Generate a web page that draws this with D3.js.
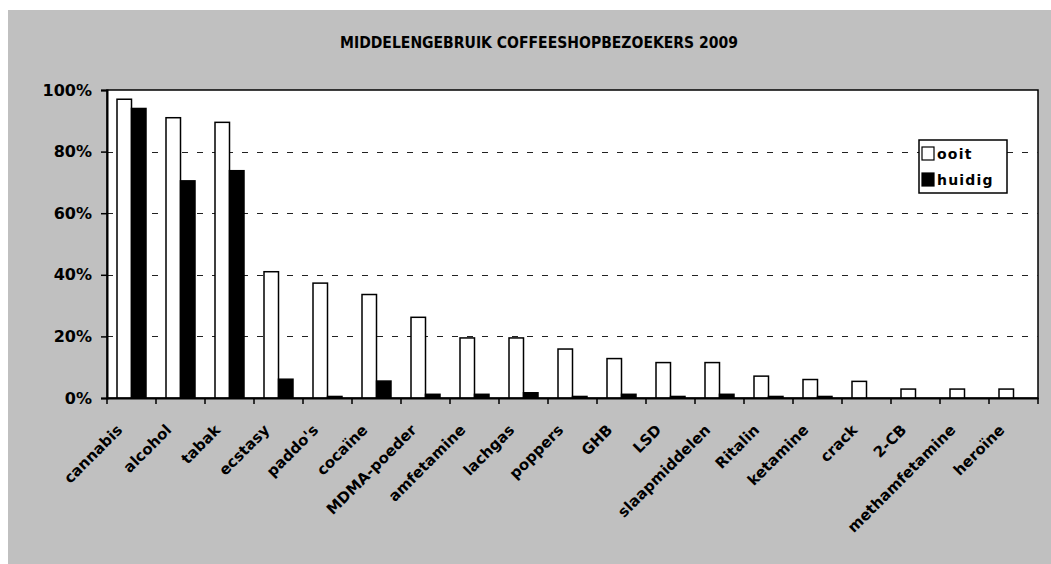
<!DOCTYPE html>
<html>
<head>
<meta charset="utf-8">
<script src="https://cdn.jsdelivr.net/npm/d3@7"></script>
<style>
  html, body { margin: 0; padding: 0; background: #ffffff; }
  svg { display: block; }
  text { font-family: "DejaVu Sans", sans-serif; font-weight: bold; fill: #000; }
</style>
</head>
<body>
<svg id="chart" width="1051" height="564"></svg>
<script>
const categories = ["cannabis", "alcohol", "tabak", "ecstasy", "paddo's", "cocaïne", "MDMA-poeder",
  "amfetamine", "lachgas", "poppers", "GHB", "LSD", "slaapmiddelen", "Ritalin", "ketamine",
  "crack", "2-CB", "methamfetamine", "heroïne"];
const seriesNames = ["ooit", "huidig"];
const ooit =   [97, 91, 89.5, 41, 37.3, 33.6, 26.2, 19.5, 19.5, 15.9, 12.8, 11.5, 11.5, 7.1, 6.0, 5.4, 2.9, 2.9, 2.9];
const huidig = [94, 70.5, 73.8, 6.1, 0.5, 5.5, 1.2, 1.2, 1.7, 0.5, 1.2, 0.5, 1.2, 0.5, 0.5, 0, 0, 0, 0];
const yTicks = [0, 20, 40, 60, 80, 100];
const title = "MIDDELENGEBRUIK COFFEESHOPBEZOEKERS 2009";

const svg = d3.select("#chart");
const W = 1051, H = 564;
const plot = { left: 107, right: 1038, top: 90, bottom: 398 };

// background
svg.append("rect").attr("x", 8).attr("y", 10).attr("width", W - 8).attr("height", H - 10).attr("fill", "#c0c0c0");

// title
svg.append("text")
  .attr("x", 539).attr("y", 48)
  .attr("text-anchor", "middle")
  .attr("font-size", 15)
  .attr("textLength", 398).attr("lengthAdjust", "spacingAndGlyphs")
  .text(title);

const x = d3.scaleBand().domain(categories).range([plot.left, plot.right]).paddingInner(0).paddingOuter(0);
const x1 = d3.scaleBand().domain(seriesNames).range([0, x.bandwidth()]).paddingInner(0).paddingOuter(0.69);
const y = d3.scaleLinear().domain([0, 100]).range([plot.bottom, plot.top]);

// plot area
svg.append("rect")
  .attr("x", plot.left).attr("y", plot.top)
  .attr("width", plot.right - plot.left).attr("height", plot.bottom - plot.top)
  .attr("fill", "#ffffff").attr("stroke", "#000").attr("stroke-width", 1.5);

// gridlines
svg.append("g").selectAll("line").data(yTicks.filter(d => d > 0 && d < 100)).join("line")
  .attr("x1", plot.left).attr("x2", plot.right)
  .attr("y1", d => Math.round(y(d)) + 0.5).attr("y2", d => Math.round(y(d)) + 0.5)
  .attr("stroke", "#222").attr("stroke-width", 1).attr("stroke-dasharray", "6,9");

// bars
const rows = categories.map((c, i) => ({ cat: c, ooit: ooit[i], huidig: huidig[i] }));
const groups = svg.append("g").selectAll("g").data(rows).join("g")
  .attr("transform", d => `translate(${x(d.cat)},0)`);
groups.selectAll("rect").data(d => seriesNames.map(s => ({ s, v: d[s] }))).join("rect")
  .filter(d => d.v > 0)
  .attr("x", d => x1(d.s))
  .attr("y", d => y(d.v))
  .attr("width", x1.bandwidth())
  .attr("height", d => y(0) - y(d.v))
  .attr("fill", d => d.s === "ooit" ? "#ffffff" : "#000000")
  .attr("stroke", "#000").attr("stroke-width", 1.5);

// y axis
const yAxis = svg.append("g").attr("transform", `translate(${plot.left},0)`)
  .call(d3.axisLeft(y).tickValues(yTicks).tickSize(6).tickPadding(9).tickFormat(d => d + "%"));
yAxis.select(".domain").attr("stroke", "#000").attr("stroke-width", 2);
yAxis.selectAll(".tick line").attr("stroke", "#000").attr("stroke-width", 1.5);
yAxis.selectAll(".tick text").attr("font-size", 16).attr("font-family", "DejaVu Sans").attr("font-weight", "bold").attr("fill", "#000");

// x axis
const xAxis = svg.append("g").attr("transform", `translate(0,${plot.bottom})`)
  .call(d3.axisBottom(x).tickSize(0).tickFormat(""));
xAxis.select(".domain").attr("stroke", "#000").attr("stroke-width", 2);
xAxis.selectAll(".tick").remove();
// tick marks at category boundaries
const bounds = categories.map(c => x(c)).concat([plot.right]);
svg.append("g").selectAll("line").data(bounds).join("line")
  .attr("x1", d => d).attr("x2", d => d)
  .attr("y1", plot.bottom).attr("y2", plot.bottom + 6)
  .attr("stroke", "#000").attr("stroke-width", 1.5);

// category labels
svg.append("g").selectAll("text").data(categories).join("text")
  .attr("transform", d => `translate(${x(d) + x.bandwidth() / 2 - 16},${plot.bottom + 25}) rotate(-45)`)
  .attr("text-anchor", "end")
  .attr("dominant-baseline", "hanging")
  .attr("font-size", 15)
  .text(d => d);

// legend
const lg = svg.append("g").attr("transform", "translate(919,140)");
lg.append("rect").attr("width", 88).attr("height", 53).attr("fill", "#fff").attr("stroke", "#000").attr("stroke-width", 1.5);
const items = lg.selectAll("g").data(seriesNames).join("g")
  .attr("transform", (d, i) => `translate(3,${7 + i * 26})`);
items.append("rect").attr("width", 12).attr("height", 13)
  .attr("fill", d => d === "ooit" ? "#fff" : "#000").attr("stroke", "#000").attr("stroke-width", 1.2);
items.append("text").attr("x", 15).attr("y", 12).attr("font-size", 14).attr("letter-spacing", 1.2).text(d => d);
</script>
</body>
</html>
